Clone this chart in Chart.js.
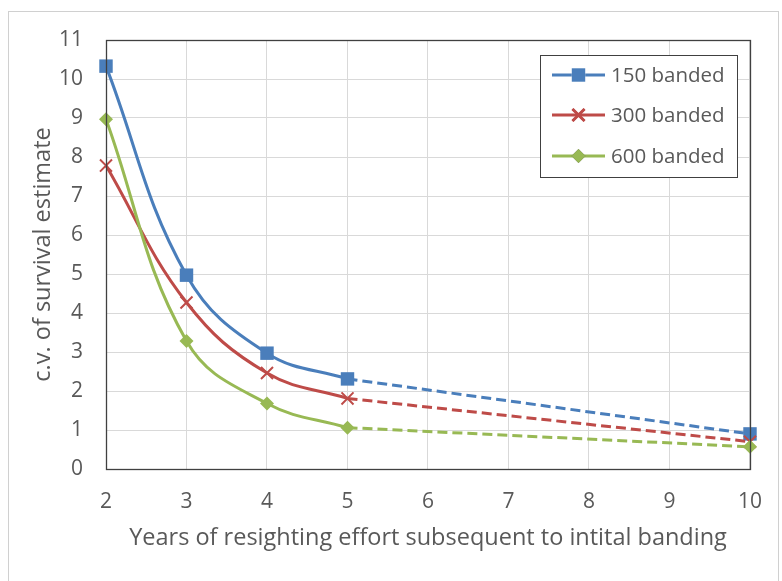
<!DOCTYPE html>
<html>
<head>
<meta charset="utf-8">
<script src="https://cdn.jsdelivr.net/npm/chart.js@4/dist/chart.umd.min.js"></script>
<style>
  html, body { margin: 0; padding: 0; background: #fff; }
</style>
</head>
<body>
<canvas id="cv-chart" width="782" height="581"></canvas>
<script>
// measured points (solid, smoothed) and the dashed extension to 10 years
const YEARS = [2, 3, 4, 5];
const EXT_YEARS = [5, 10];

const BANDED_150 = [10.33, 4.97, 2.97, 2.31];
const BANDED_150_EXT = [2.31, 0.9];
const BANDED_300 = [7.78, 4.27, 2.46, 1.81];
const BANDED_300_EXT = [1.81, 0.7];
const BANDED_600 = [8.97, 3.28, 1.68, 1.06];
const BANDED_600_EXT = [1.06, 0.57];

const SERIES_LABELS = ['150 banded', '300 banded', '600 banded'];
const X_TITLE = 'Years of resighting effort subsequent to intital banding';
const Y_TITLE = 'c.v. of survival estimate';

const BLUE = '#4a7ebb';
const RED = '#be4b48';
const GREEN = '#98b954';
const TEXT = '#595959';

Chart.defaults.font.family = "'Open Sans', sans-serif";
Chart.defaults.color = TEXT;

function toPoints(xs, ys) {
  return xs.map((x, i) => ({ x: x, y: ys[i] }));
}

const markers = [
  { pointStyle: 'rect', pointRadius: 9.5, pointBorderWidth: 0 },
  { pointStyle: 'crossRot', pointRadius: 8.5, pointBorderWidth: 2 },
  { pointStyle: 'rectRot', pointRadius: 7, pointBorderWidth: 0 },
];
const colors = [BLUE, RED, GREEN];
const mainData = [BANDED_150, BANDED_300, BANDED_600];
const extData = [BANDED_150_EXT, BANDED_300_EXT, BANDED_600_EXT];

let datasets = [];
mainData.forEach((values, i) => {
  datasets.push(Object.assign({
    label: SERIES_LABELS[i],
    data: toPoints(YEARS, values),
    borderColor: colors[i],
    backgroundColor: colors[i],
    pointBackgroundColor: colors[i],
    pointBorderColor: colors[i],
    borderWidth: 3,
    tension: 0.4,
    clip: false,
    order: 10 - i,
  }, markers[i]));
});
extData.forEach((values, i) => {
  datasets.push(Object.assign({
    label: SERIES_LABELS[i] + ' ext',
    data: toPoints(EXT_YEARS, values),
    borderColor: colors[i],
    backgroundColor: colors[i],
    pointBackgroundColor: colors[i],
    pointBorderColor: colors[i],
    borderWidth: 3,
    borderDash: [10, 5],
    tension: 0,
    clip: false,
    order: 10 - i,
  }, markers[i], { pointRadius: [0, markers[i].pointRadius] }));
});

// outer frame, plot border and the boxed legend inside the plot
const framePlugin = {
  id: 'frame',
  beforeDraw(chart) {
    const ctx = chart.ctx;
    ctx.save();
    ctx.strokeStyle = '#d0d0d0';
    ctx.lineWidth = 1;
    ctx.strokeRect(8.5, 11.5, 770, 600);
    ctx.restore();
  },
  afterDatasetsDraw(chart) {
    const ctx = chart.ctx;
    const a = chart.chartArea;
    ctx.save();
    ctx.strokeStyle = '#404040';
    ctx.lineWidth = 1.3;
    ctx.strokeRect(Math.round(a.left) + 0.5, Math.round(a.top) + 0.5,
      Math.round(a.right - a.left), Math.round(a.bottom - a.top));
    ctx.restore();
  },
  afterDraw(chart) {
    const ctx = chart.ctx;
    const box = { x: 540.5, y: 55.5, w: 197, h: 122 };
    ctx.save();
    ctx.fillStyle = '#fff';
    ctx.fillRect(box.x, box.y, box.w, box.h);
    ctx.strokeStyle = '#404040';
    ctx.lineWidth = 1;
    ctx.strokeRect(box.x, box.y, box.w, box.h);
    const rows = [75, 115, 156];
    ctx.font = "20.5px 'Open Sans', sans-serif";
    ctx.textBaseline = 'middle';
    SERIES_LABELS.forEach((label, i) => {
      const y = rows[i];
      ctx.strokeStyle = colors[i];
      ctx.lineWidth = 3;
      ctx.beginPath();
      ctx.moveTo(552, y);
      ctx.lineTo(605, y);
      ctx.stroke();
      Chart.helpers.drawPoint(ctx, {
        pointStyle: markers[i].pointStyle,
        radius: markers[i].pointRadius,
        rotation: 0,
        borderWidth: markers[i].pointBorderWidth,
      }, 578.5, y);
      ctx.fillStyle = colors[i];
      ctx.strokeStyle = colors[i];
      ctx.lineWidth = markers[i].pointBorderWidth || 0.01;
      ctx.fill();
      if (markers[i].pointBorderWidth) ctx.stroke();
      ctx.fillStyle = TEXT;
      ctx.fillText(label, 611, y + 1);
    });
    ctx.restore();
  },
};

const ctx = document.getElementById('cv-chart').getContext('2d');
const cvChart = new Chart(ctx, {
  type: 'line',
  data: { datasets: datasets },
  options: {
    responsive: false,
    animation: false,
    layout: { padding: { left: 10, top: 40, right: 29, bottom: 26 } },
    plugins: { legend: { display: false }, tooltip: { enabled: false } },
    scales: {
      x: {
        type: 'linear',
        min: 2,
        max: 10,
        ticks: { stepSize: 1, padding: 20, font: { size: 21 }, color: TEXT },
        grid: { color: '#d9d9d9', drawTicks: false },
        border: { display: false },
        title: { display: true, text: X_TITLE, font: { size: 23.5 }, color: TEXT, padding: { top: 0, bottom: 3 } },
        afterFit(scale) { scale.height = 86; },
      },
      y: {
        min: 0,
        max: 11,
        ticks: { stepSize: 1, padding: 23, font: { size: 21 }, color: TEXT },
        grid: { color: '#d9d9d9', drawTicks: false },
        border: { display: false },
        title: { display: true, text: Y_TITLE, font: { size: 23.5 }, color: TEXT, padding: { top: 19, bottom: 0 } },
        afterFit(scale) { scale.width = 96; },
      },
    },
  },
  plugins: [framePlugin],
});
</script>
</body>
</html>
